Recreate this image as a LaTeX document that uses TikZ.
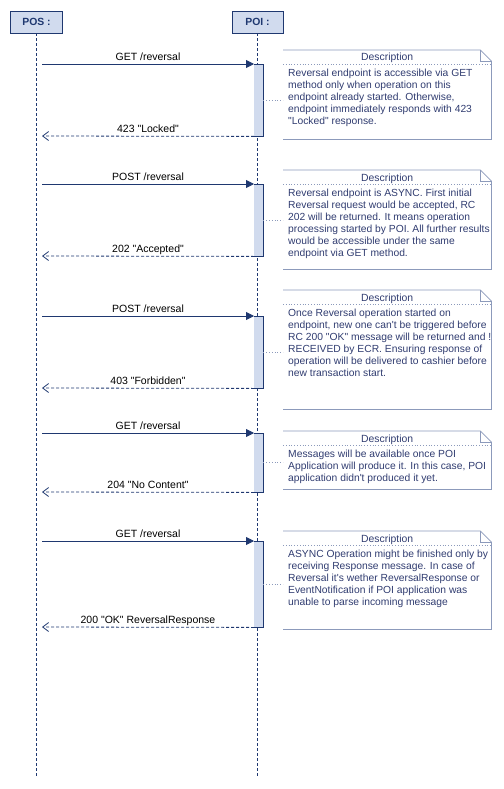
\documentclass[tikz,border=0pt]{standalone}
\usepackage{fontspec}
\newfontfamily\seqfont{Liberation Sans}
\usetikzlibrary{arrows.meta,positioning}
\definecolor{seqline}{RGB}{31,56,112}
\definecolor{seqfill}{RGB}{209,219,238}
\definecolor{noteline}{RGB}{140,154,187}
\definecolor{notetext}{RGB}{48,60,112}
\tikzset{
  head/.style={draw=seqline, fill=seqfill, line width=0.8pt, minimum width=52pt,
    minimum height=22pt, inner sep=0pt, text depth=0pt, text=seqline,
    font=\seqfont\fontsize{10.4}{12}\selectfont\bfseries},
  life/.style={draw=seqline, line width=0.8pt, dash pattern=on 3pt off 2pt},
  act/.style={fill=seqfill, minimum width=9pt, inner sep=0pt, anchor=north west},
  actedge/.style={draw=seqline, line width=0.8pt},
  call/.style={draw=seqline, line width=0.8pt, -{Triangle[length=8pt,width=8pt]}},
  reply/.style={draw=seqline, line width=0.8pt, dash pattern=on 3pt off 2pt,
    -{Straight Barb[length=6pt,width=9pt]}},
  msg/.style={anchor=base, inner sep=0pt, text=black,
    font=\seqfont\fontsize{10.5}{12}\selectfont},
  notebox/.style={minimum width=208pt, inner sep=0pt, anchor=north west},
  noteedge/.style={draw=noteline, line width=0.8pt},
  notetitle/.style={anchor=base, inner sep=0pt, text=notetext,
    font=\seqfont\fontsize{10.4}{12}\selectfont},
  notebody/.style={anchor=north west, inner sep=0pt, align=left, text=notetext,
    font=\seqfont\fontsize{10.3}{12}\selectfont}
}
\begin{document}
\begin{tikzpicture}[x=1pt,y=-1pt]
  \useasboundingbox (0,0) rectangle (503,789);

  % lifelines
  \node[head] (pos) at (36.5,22) {POS :};
  \node[head, minimum width=51pt] (poi) at (257.5,22) {POI :};
  \coordinate (posend) at (36.5,778);
  \coordinate (poiend) at (257.5,778);
  \draw[life] (pos.south) -- (posend);
  \draw[life] (poi.south) -- (poiend);

  % requests, activations and responses
  \foreach \i/\ya/\yb/\req/\resp in {
      1/64/136/{GET /reversal}/{423 "Locked"},
      2/184/256/{POST /reversal}/{202 "Accepted"},
      3/316/388/{POST /reversal}/{403 "Forbidden"},
      4/433/492/{GET /reversal}/{204 "No Content"},
      5/541/627/{GET /reversal}/{200 "OK" ReversalResponse}} {
    \node[act, minimum height={\yb-\ya}] (act\i) at (254,\ya) {};
    \draw[actedge] (act\i.north west) -- (act\i.north east) -- (act\i.south east) -- (act\i.south west);
    \coordinate (s\i) at (42,\ya);
    \coordinate (r\i) at (42,\yb);
    \draw[call] (s\i) -- node[msg, yshift=3.5pt] {\req} (act\i.north west);
    \draw[reply] (act\i.south west) -- node[msg, yshift=4pt] {\resp} (r\i);
  }

  % notes
  \foreach \i/\top/\h/\body in {
      1/50/89/{Reversal endpoint is accessible via GET\\method only when operation on this\\endpoint already started. Otherwise,\\endpoint immediately responds with 423\\"Locked" response.},
      2/170/99/{Reversal endpoint is ASYNC. First initial\\Reversal request would be accepted, RC\\202 will be returned. It means operation\\processing started by POI. All further results\\would be accessible under the same\\endpoint via GET method.},
      3/290/119/{Once Reversal operation started on\\endpoint, new one can't be triggered before\\RC 200 "OK" message will be returned and !\\RECEIVED by ECR. Ensuring response of\\operation will be delivered to cashier before\\new transaction start.},
      4/431/58/{Messages will be available once POI\\Application will produce it. In this case, POI\\application didn't produced it yet.},
      5/531/98/{ASYNC Operation might be finished only by\\receiving Response message. In case of\\Reversal it's wether ReversalResponse or\\EventNotification if POI application was\\unable to parse incoming message}} {
    \node[notebox, minimum height=\h] (note\i) at (283,\top) {};
    \draw[noteedge] (note\i.north west) -- ([xshift=-11pt]note\i.north east) -- ([yshift=-11pt]note\i.north east)
      -- (note\i.south east) -- (note\i.south west);
    \draw[noteedge] ([xshift=-11pt]note\i.north east) -- ([xshift=-11pt,yshift=-11pt]note\i.north east)
      -- ([yshift=-11pt]note\i.north east);
    \node[notetitle] (title\i) at ([yshift=-11pt]note\i.north) {Description};
    \draw[noteedge, dotted] ([yshift=-14.5pt]note\i.north west) -- ([yshift=-14.5pt]note\i.north east);
    \node[notebody] (body\i) at ([xshift=5pt,yshift=-18.8pt]note\i.north west) {\body};
    \draw[noteedge, dotted] (act\i.east) -- (act\i.east -| note\i.west);
  }
\end{tikzpicture}
\end{document}
